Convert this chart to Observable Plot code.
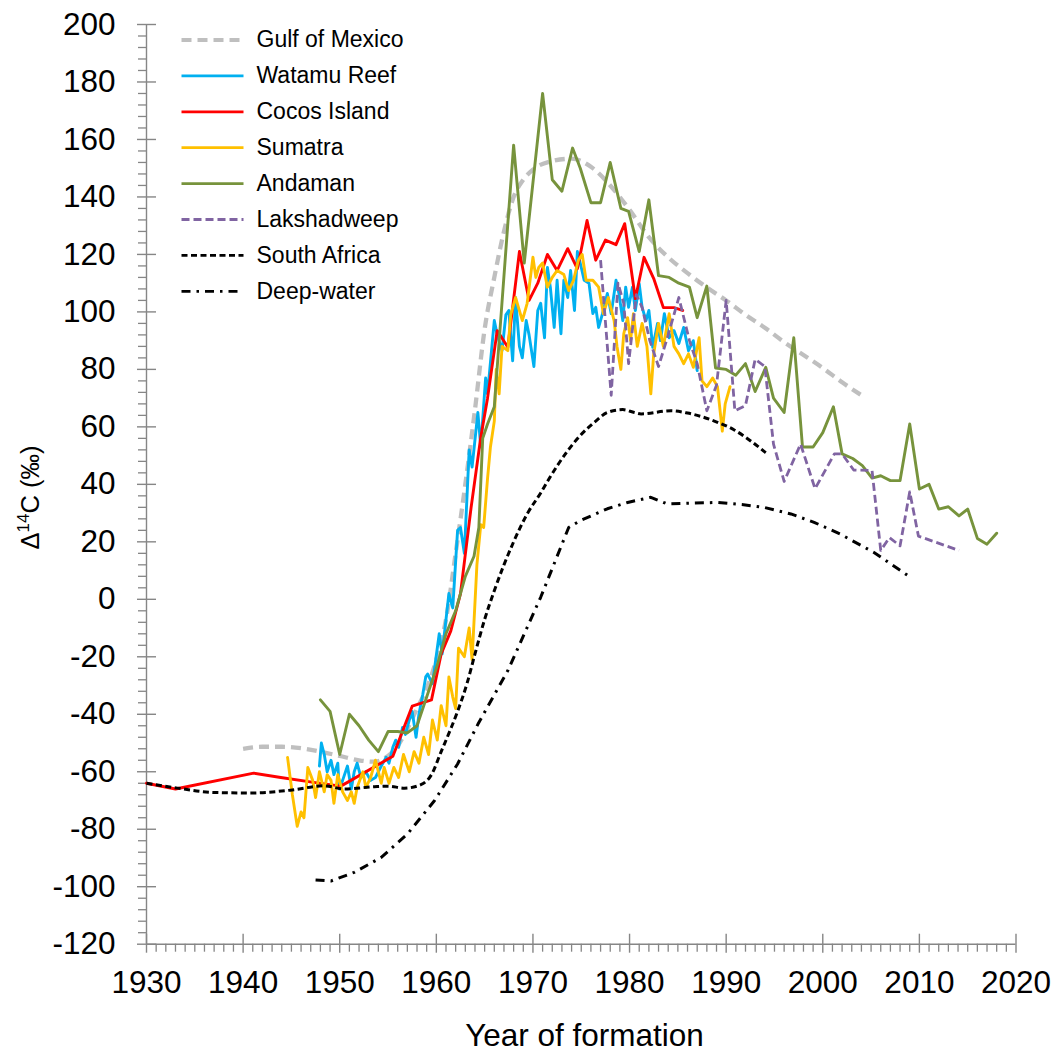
<!DOCTYPE html>
<html>
<head>
<meta charset="utf-8">
<script src="https://cdn.jsdelivr.net/npm/d3@7"></script>
<script src="https://cdn.jsdelivr.net/npm/@observablehq/plot@0.6"></script>
<style>
  html, body { margin: 0; padding: 0; background: #fff; }
  #chart svg { display: block; }
</style>
</head>
<body>
<div id="chart"></div>
<script>
// ---------------- data: [year, Δ14C (‰)] ----------------
const gulfOfMexico = [[1940,-52],[1942,-51.3],[1944,-51.3],[1946,-51.8],[1948,-53],[1950,-54.5],[1952,-56],[1953.5,-56.5],[1955,-54.5],[1956,-51],[1957,-45],[1958,-38],[1959,-31],[1960,-21],[1961,-7],[1962,16],[1963,40],[1964,66],[1965,94],[1966,112],[1967,128],[1968,140],[1969,146],[1970,149.5],[1972,152.5],[1974,153.3],[1976,150.5],[1978,144],[1980,135.5],[1982,126],[1984,119],[1986,113.5],[1988,108.5],[1990,104],[1992,99],[1994,94.5],[1996,89.5],[1998,85],[2000,80.5],[2002,75.5],[2004,71]];

const watamuReef = [[1947.9,-58],[1948.1,-50],[1948.4,-54],[1948.7,-60],[1949.1,-56],[1949.4,-61],[1949.8,-57],[1949.95,-66],[1950.3,-63],[1950.8,-58],[1951.2,-66],[1951.5,-60],[1951.8,-57],[1952.2,-62],[1952.7,-60],[1953.2,-63],[1953.7,-62],[1954.3,-58],[1954.8,-55],[1955.1,-57],[1955.5,-51.5],[1955.8,-49],[1956.1,-51.5],[1956.5,-44.6],[1956.8,-47],[1957.2,-42],[1957.5,-39],[1957.9,-48],[1958.2,-40],[1958.6,-33],[1958.9,-27],[1959.1,-26],[1959.6,-29.4],[1960.3,-12],[1960.6,-19],[1961.3,2],[1961.7,-3],[1962.2,24],[1962.5,25],[1962.9,16],[1963.4,52],[1963.7,46],[1964.3,65],[1964.6,53],[1965.1,77],[1965.3,71.5],[1966.0,97],[1966.3,92],[1966.8,86.5],[1967.2,99],[1967.5,100.5],[1967.9,83],[1968.2,105],[1968.6,88],[1968.9,84],[1969.3,97],[1969.6,92],[1970.1,81],[1970.5,100.5],[1970.8,103],[1971.2,91],[1971.5,115.5],[1971.8,108.6],[1972.2,94.6],[1972.5,111],[1972.9,92.4],[1973.2,111],[1973.6,105],[1973.9,114.4],[1974.3,100.5],[1974.6,121],[1975.0,115.5],[1975.3,111],[1975.8,110],[1976.2,99.4],[1976.5,101.6],[1976.8,94.6],[1977.2,99.4],[1977.7,106.4],[1978.1,99.4],[1978.6,111],[1978.9,106.4],[1979.3,97],[1979.6,108.6],[1979.9,101.6],[1980.3,108.6],[1980.6,100.5],[1981.0,109.8],[1981.3,101.6],[1981.7,97],[1982.0,100.5],[1982.4,87.7],[1982.9,96],[1983.2,90],[1983.6,99.4],[1984.1,91],[1984.6,93.5],[1985.1,89],[1985.6,94.6],[1986.1,86.5],[1986.6,90],[1987.0,79.6]];

const cocosIsland = [[1930.0,-64],[1933.0,-66],[1941.1,-60.5],[1943.9,-62],[1947.3,-63.7],[1950.1,-65],[1950.8,-63.7],[1955.5,-54.6],[1957.5,-37.2],[1959.5,-35],[1960.5,-19],[1961.5,-11],[1962.5,2],[1963.6,32],[1964.6,56.4],[1965.3,70],[1966.3,93.5],[1967.4,87.7],[1968.6,121],[1969.6,104],[1970.5,110],[1971.5,120],[1972.5,114.4],[1973.6,122],[1974.6,115],[1975.6,131.8],[1976.5,118],[1977.5,125],[1978.6,123.4],[1979.5,130.7],[1980.6,104.6],[1981.5,119],[1982.5,111.6],[1983.5,101.5],[1984.6,101.5],[1985.5,100.5]];

const sumatra = [[1944.6,-55],[1945.1,-68],[1945.6,-79],[1946.0,-74],[1946.3,-76],[1946.7,-58.5],[1947.2,-63],[1947.5,-69],[1947.9,-60],[1948.4,-67],[1948.7,-61],[1949.1,-63],[1949.4,-71],[1949.8,-61],[1950.3,-67],[1950.8,-70],[1951.2,-67],[1951.5,-71],[1951.8,-65.5],[1952.4,-60],[1952.7,-65.5],[1953.2,-62],[1953.7,-56],[1954.3,-64],[1954.6,-58.5],[1955.1,-64],[1955.6,-58.5],[1956.1,-62],[1956.6,-54],[1957.2,-60],[1957.7,-53],[1958.2,-57],[1958.7,-48],[1959.2,-54],[1959.6,-42],[1960.1,-49],[1960.5,-37],[1961.0,-44],[1961.3,-27],[1961.7,-34],[1962.0,-38],[1962.3,-17],[1962.9,-20],[1963.4,-10],[1963.7,-21],[1964.2,12],[1964.6,26],[1964.9,25],[1965.3,42],[1965.6,53],[1966.0,62],[1966.2,80],[1966.5,71.5],[1966.8,88],[1967.4,86.5],[1967.7,99],[1968.2,105],[1968.5,101.6],[1968.9,97],[1969.4,103],[1970.0,119],[1970.3,112],[1970.6,115.5],[1971.0,117],[1971.5,108.6],[1972.0,112],[1972.5,114.4],[1973.2,113],[1973.7,107.4],[1974.2,111],[1974.7,118],[1975.1,120],[1975.5,111],[1976.2,111],[1976.8,108.6],[1977.3,99.4],[1977.8,105],[1978.4,97],[1978.7,88],[1979.1,80],[1979.4,92.4],[1979.8,98],[1980.1,90],[1980.4,99.4],[1980.8,88],[1981.3,96],[1981.8,88],[1982.2,71.5],[1982.5,85.4],[1983.0,96],[1983.5,88],[1984.1,99.4],[1984.6,88],[1985.1,85.4],[1985.6,82],[1986.1,85.4],[1986.6,80.7],[1987.2,91],[1987.5,76],[1988.0,74],[1988.6,77],[1989.1,74],[1989.6,58.5],[1989.9,68],[1990.4,74]];

const andaman = [[1948,-35],[1949,-39],[1950,-54],[1951,-40],[1952,-44],[1953,-49],[1954,-53],[1955,-46],[1956,-46],[1957,-46.5],[1958,-44],[1959,-34],[1960,-24],[1961,-12],[1962,-4],[1963,8],[1963.9,15],[1964.4,25],[1964.8,56],[1965.3,61],[1966.0,67],[1968.0,158],[1969.1,117],[1971.0,176],[1972.0,146],[1973.0,142],[1974.1,157],[1974.9,150],[1976.0,138],[1977.0,138],[1978.0,152],[1979.1,136],[1979.9,135],[1981.0,121],[1982.0,139],[1983.0,112.6],[1984.1,112],[1985.1,110],[1986.2,108.6],[1987.0,98],[1988.0,109],[1988.9,80.5],[1990.0,80],[1991.0,78],[1992.0,82],[1993.0,72.3],[1994.1,80.7],[1994.9,70],[1996.0,65],[1997.0,91],[1997.9,53],[1999.0,53],[2000.0,58],[2001.1,67],[2002.0,50.6],[2003.1,49],[2004.1,46.5],[2005.1,42.2],[2006.0,43],[2007.0,41.3],[2008.0,41.3],[2009.0,61],[2010.0,38.4],[2011.0,40],[2012.0,31.4],[2013.0,32.2],[2014.1,29],[2015.0,31.4],[2016.0,21.2],[2017.0,19.2],[2018.0,23]];

const lakshadweep = [[1977.0,118],[1978.1,71],[1978.8,110],[1979.4,103],[1979.9,82],[1980.7,106],[1981.3,101.6],[1982.1,90],[1983.0,81],[1984.0,92],[1985.1,105],[1986.2,90],[1987.0,82],[1988.0,65.6],[1989.0,74.5],[1990.0,104],[1990.9,65.6],[1992.0,67.4],[1993.0,83.5],[1994.0,81],[1994.9,54],[1996.0,41],[1997.7,54],[1999.2,38.5],[2001.2,50.6],[2002.0,50.6],[2003.2,45],[2005.1,44.8],[2006.0,17],[2006.9,21.5],[2008.0,18.6],[2009.0,37.4],[2009.9,22],[2014.1,17]];

const southAfrica = [[1930,-64],[1933.2,-65.7],[1937,-67.2],[1940.8,-67.4],[1944.9,-66.4],[1948.4,-64.9],[1950.5,-66],[1953.6,-65.2],[1955,-65],[1956.7,-65.7],[1958.4,-64.5],[1959.5,-61],[1960.5,-53],[1961.5,-45],[1962.2,-39],[1963.2,-29],[1964.0,-19],[1965.0,-7],[1966.0,3],[1967.0,12],[1968.0,20],[1969.4,29.7],[1970.8,37],[1971.5,41],[1973.6,51.7],[1974.9,57],[1976.5,62],[1977.7,65],[1979.3,66],[1980.5,65],[1981.2,64.5],[1984.3,65.6],[1986,64.8],[1989.1,61.6],[1990.8,59],[1992.5,55.2],[1994.1,51]];

const deepWater = [[1947.5,-97.7],[1949.1,-98],[1951.5,-95],[1954.3,-89.8],[1957,-81.7],[1959.8,-70.1],[1962.2,-57.3],[1964.3,-43.5],[1967.4,-24.8],[1970.8,0.7],[1973.7,25],[1974.9,27.4],[1977.7,31.5],[1979.8,33.7],[1982.2,35.5],[1983.9,33.2],[1986,33.4],[1989.1,33.7],[1991.8,32.9],[1993.9,32],[1996.7,29.7],[1999.1,26.8],[2001.8,22.7],[2005.3,16.3],[2009.1,7.6]];

const seriesNames = ["Gulf of Mexico","Watamu Reef","Cocos Island","Sumatra","Andaman","Lakshadweep","South Africa","Deep-water"];
const xTicks = [1930,1940,1950,1960,1970,1980,1990,2000,2010,2020];
const yTicks = [-120,-100,-80,-60,-40,-20,0,20,40,60,80,100,120,140,160,180,200];

// ---------------- layout ----------------
const W = 1054, H = 1053;
const ml = 146, mr = 38.5, mt = 24, mb = 109.3;
const xDom = [1930, 2020], yDom = [-120, 200];
const pxX = (W - ml - mr) / (xDom[1] - xDom[0]);
const pxY = (H - mt - mb) / (yDom[1] - yDom[0]);
const yearAt = px => xDom[0] + (px - ml) / pxX;   // pixel -> data (for decoration placement)
const valAt = py => yDom[1] - (py - mt) / pxY;
const axisColor = "#868686";
const font = "Liberation Sans, Arial, Helvetica, sans-serif";

const styles = [
  {data: gulfOfMexico, stroke: "#bfbfbf", width: 4.3, dash: "10,6", curve: "monotone-x"},
  {data: watamuReef,   stroke: "#00b0f0", width: 2.9, dash: null,   curve: "linear"},
  {data: cocosIsland,  stroke: "#ff0000", width: 2.9, dash: null,   curve: "linear"},
  {data: sumatra,      stroke: "#ffc000", width: 2.9, dash: null,   curve: "linear"},
  {data: andaman,      stroke: "#77933c", width: 2.9, dash: null,   curve: "linear"},
  {data: lakshadweep,  stroke: "#8064a2", width: 2.8, dash: "8,4",  curve: "linear"},
  {data: southAfrica,  stroke: "#000000", width: 3,   dash: "6,3.5",curve: "monotone-x"},
  {data: deepWater,    stroke: "#000000", width: 3,   dash: "9,6,2.5,6", curve: "linear"}
];

const minorX = d3.range(1930, 2021, 1).filter(v => v % 10 !== 0);
const minorY = d3.range(-120, 201, 4).filter(v => v % 20 !== 0);

const marks = [];

// axis lines and ticks
marks.push(Plot.ruleY([yDom[0]], {x1: xDom[0], x2: xDom[1], stroke: axisColor, strokeWidth: 1.4}));
marks.push(Plot.ruleX([xDom[0]], {y1: yDom[0], y2: yDom[1], stroke: axisColor, strokeWidth: 1.4}));
marks.push(Plot.ruleX(xTicks, {x: d => d, y1: yDom[0] - 9 / pxY, y2: yDom[0] + 10 / pxY, stroke: axisColor, strokeWidth: 1.4}));
marks.push(Plot.ruleX(minorX, {x: d => d, y1: yDom[0] - 8 / pxY, y2: yDom[0], stroke: axisColor, strokeWidth: 1.3}));
marks.push(Plot.ruleY(yTicks, {y: d => d, x1: xDom[0] - 9 / pxX, x2: xDom[0] + 10 / pxX, stroke: axisColor, strokeWidth: 1.4}));
marks.push(Plot.ruleY(minorY, {y: d => d, x1: xDom[0] - 8 / pxX, x2: xDom[0], stroke: axisColor, strokeWidth: 1.3}));

// tick labels through Plot axes
marks.push(Plot.axisX(xTicks, {tickSize: 0, tickPadding: 26, fontSize: 31.5, fill: "#000", tickFormat: d => String(d), label: null, fontFamily: font}));
marks.push(Plot.axisY(yTicks, {tickSize: 0, tickPadding: 31, fontSize: 31.5, fill: "#000", tickFormat: d => String(d), label: null, fontFamily: font}));

// series
styles.forEach(s => {
  marks.push(Plot.line(s.data, {
    x: d => d[0], y: d => d[1], stroke: s.stroke, strokeWidth: s.width,
    strokeDasharray: s.dash, strokeLinecap: s.dash ? "butt" : "round", strokeLinejoin: "round", curve: s.curve
  }));
});

// legend (inside plot, top-left)
seriesNames.forEach((name, i) => {
  const s = styles[i];
  const py = 39.5 + i * 35.9;
  marks.push(Plot.link([name], {
    x1: yearAt(181), x2: yearAt(243), y1: valAt(py), y2: valAt(py),
    stroke: s.stroke, strokeWidth: s.width > 4 ? 3.8 : 2.8, strokeDasharray: s.dash, strokeLinecap: "butt"
  }));
  marks.push(Plot.text([name], {
    x: yearAt(256), y: valAt(py), text: d => d, textAnchor: "start", fontSize: 23, fill: "#000", fontFamily: font
  }));
});

// axis titles
marks.push(Plot.text(["Year of formation"], {x: yearAt(584), y: valAt(1035), text: d => d, fontSize: 31.5, fill: "#000", fontFamily: font}));
marks.push(Plot.text(["Δ14C (‰)"], {x: yearAt(30), y: valAt(497), text: d => d, rotate: -90, fontSize: 25.5, fill: "#000", fontFamily: font}));

const chart = Plot.plot({
  width: W, height: H,
  marginLeft: ml, marginRight: mr, marginTop: mt, marginBottom: mb,
  x: {domain: xDom, type: "linear"},
  y: {domain: yDom, type: "linear"},
  style: {fontFamily: font, background: "#fff", overflow: "visible"},
  marks
});

// superscript "14" in the y-axis title
chart.querySelectorAll("text").forEach(t => {
  if (t.textContent === "Δ14C (‰)") {
    t.innerHTML = 'Δ<tspan font-size="17" dy="-10">14</tspan><tspan dy="10">C (‰)</tspan>';
  }
});

document.getElementById("chart").appendChild(chart);
</script>
</body>
</html>
